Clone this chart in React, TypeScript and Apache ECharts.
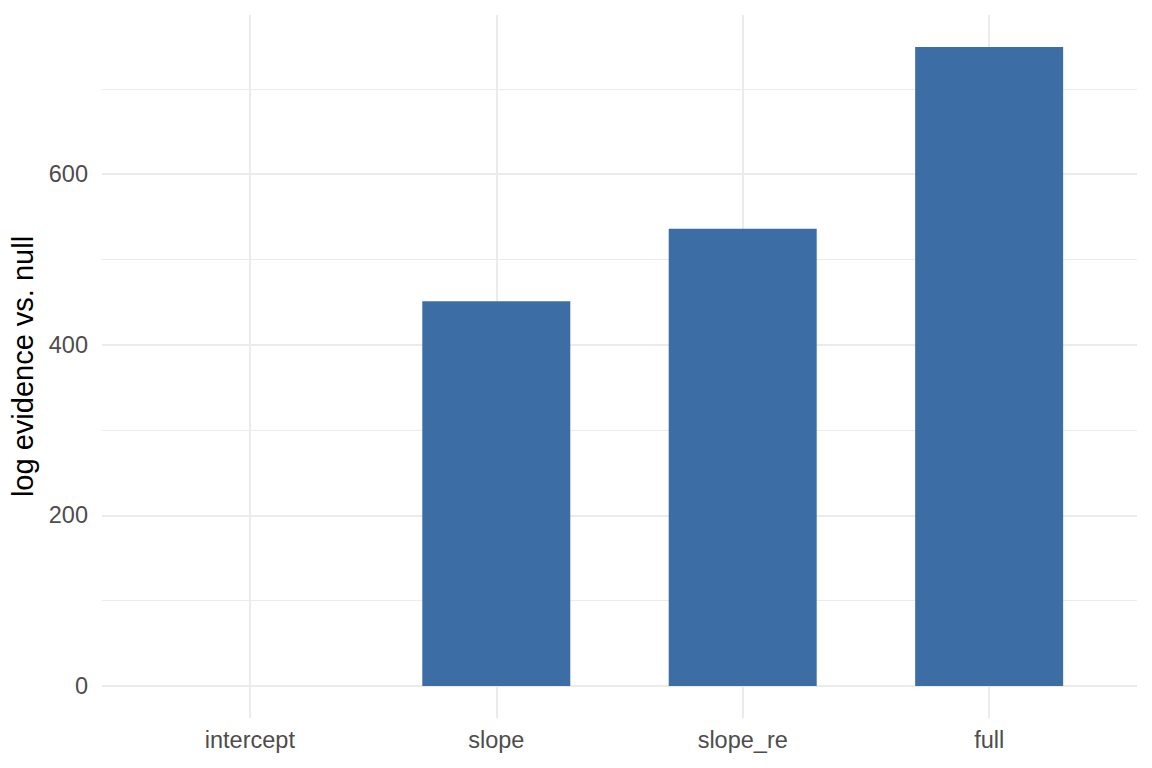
import React, { useEffect, useRef } from "react";
import * as echarts from "echarts";

const categories = ["intercept", "slope", "slope_re", "full"];
const logEvidence = [0, 451, 536, 749];
const majorTicks = [0, 200, 400, 600];
const minorTicks = [100, 300, 500, 700];

const BAR_COLOR = "#3C6EA5";
const GRID_COLOR = "#EBEBEB";
const FONT = "Liberation Sans, Arial, sans-serif";

const App: React.FC = () => {
  const chartRef = useRef<HTMLDivElement>(null);

  useEffect(() => {
    if (!chartRef.current) return;
    const chart = echarts.init(chartRef.current, undefined, { renderer: "svg" });

    // ggplot-style expansion: 5% on y, 0.6 units on x
    const yMax = Math.max(...logEvidence);
    const yMin = 0;
    const span = yMax - yMin;

    const gridLines = [
      ...categories.map((_, i) => ({ xAxis: i + 1, lineStyle: { width: 2 } })),
      ...majorTicks.map((v) => ({ yAxis: v, lineStyle: { width: 2 } })),
      ...minorTicks.map((v) => ({ yAxis: v, lineStyle: { width: 1 } })),
    ];

    chart.setOption({
      animation: false,
      grid: { left: 102, right: 15, top: 15, bottom: 50, containLabel: false },
      xAxis: {
        type: "value",
        min: 0.4,
        max: categories.length + 0.6,
        axisLine: { show: false },
        axisTick: { show: false },
        splitLine: { show: false },
        axisLabel: {
          customValues: categories.map((_, i) => i + 1),
          formatter: (v: number) => categories[Math.round(v) - 1] ?? "",
          color: "#4D4D4D",
          fontSize: 23.5,
          fontFamily: FONT,
          margin: 10,
        },
      },
      yAxis: {
        type: "value",
        min: yMin - span * 0.05,
        max: yMax + span * 0.05,
        name: "log evidence vs. null",
        nameLocation: "middle",
        nameGap: 59,
        nameTextStyle: { color: "#000000", fontSize: 29, fontFamily: FONT },
        axisLine: { show: false },
        axisTick: { show: false },
        splitLine: { show: false },
        axisLabel: {
          customValues: majorTicks,
          color: "#4D4D4D",
          fontSize: 23.5,
          fontFamily: FONT,
          margin: 14,
        },
      },
      series: [
        {
          type: "bar",
          data: logEvidence.map((v, i) => [i + 1, v]),
          barWidth: 148,
          itemStyle: { color: BAR_COLOR },
          z: 3,
          markLine: {
            silent: true,
            symbol: "none",
            label: { show: false },
            z: 1,
            lineStyle: { color: GRID_COLOR, type: "solid" },
            data: gridLines,
          },
        },
      ],
    });

    return () => chart.dispose();
  }, []);

  return (
    <div
      ref={chartRef}
      style={{ position: "fixed", left: 0, top: 0, width: 1152, height: 768, background: "#fff" }}
    />
  );
};

export default App;
